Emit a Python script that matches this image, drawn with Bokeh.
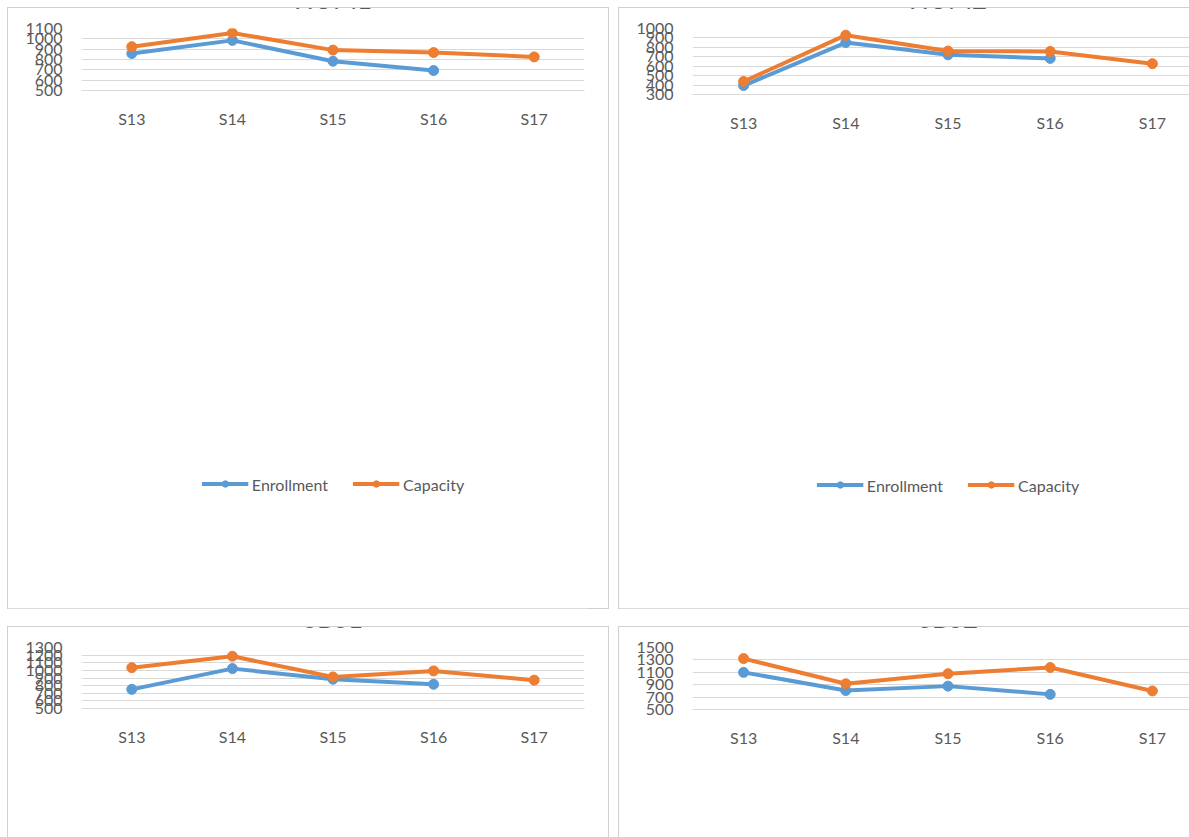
from bokeh.plotting import figure
from bokeh.models import FixedTicker, Range1d, Legend, LegendItem
from bokeh.layouts import row, column
from bokeh.embed import file_html
from bokeh.resources import INLINE

categories = ["S13", "S14", "S15", "S16", "S17"]

hum1_enrollment = [858, 985, 783, 693]
hum1_capacity = [924, 1057, 891, 867, 825]
hum1_ticks = [500, 600, 700, 800, 900, 1000, 1100]

hum2_enrollment = [395, 851, 721, 683]
hum2_capacity = [438, 929, 761, 757, 627]
hum2_ticks = [300, 400, 500, 600, 700, 800, 900, 1000]

sbs1_enrollment = [751, 1023, 884, 817]
sbs1_capacity = [1035, 1185, 914, 993, 872]
sbs1_ticks = [500, 600, 700, 800, 900, 1000, 1100, 1200, 1300]

sbs2_enrollment = [1099, 806, 877, 744]
sbs2_capacity = [1321, 915, 1077, 1177, 799]
sbs2_ticks = [500, 700, 900, 1100, 1300, 1500]

BLUE = "#5B9BD5"
ORANGE = "#ED7D31"
TEXT = "#595959"
GRID = "#d9d9d9"
FONT = "Lato"


def make_panel(title, enr, cap, ticks, fw, fh, bl, br, bt, bb):
    n = len(categories)
    cat_pos = [i + 0.5 for i in range(n)]
    p = figure(
        x_range=Range1d(0, n),
        y_range=Range1d(ticks[0], ticks[-1]),
        frame_width=fw, frame_height=fh,
        min_border_left=bl, min_border_right=br,
        min_border_top=bt, min_border_bottom=bb,
        sizing_mode="fixed",
        output_backend="svg", toolbar_location=None,
        title=title,
    )
    p.title.align = "center"
    p.title.text_font = FONT
    p.title.text_font_size = "26px"
    p.title.text_font_style = "normal"
    p.title.text_color = TEXT
    p.title.standoff = 27

    p.outline_line_color = None
    p.xgrid.grid_line_color = None
    p.ygrid.grid_line_color = GRID
    p.yaxis.ticker = FixedTicker(ticks=ticks)

    p.yaxis.axis_line_color = None
    p.yaxis.major_tick_line_color = None
    p.yaxis.minor_tick_line_color = None
    p.yaxis.major_tick_out = 0
    p.yaxis.major_label_standoff = 19
    p.yaxis.major_label_text_font = FONT
    p.yaxis.major_label_text_font_size = "16px"
    p.yaxis.major_label_text_color = TEXT

    p.xaxis.ticker = FixedTicker(ticks=cat_pos)
    p.xaxis.major_label_overrides = {pos: c for pos, c in zip(cat_pos, categories)}
    p.xaxis.axis_line_color = GRID
    p.xaxis.major_tick_line_color = None
    p.xaxis.minor_tick_line_color = None
    p.xaxis.major_tick_out = 0
    p.xaxis.major_label_standoff = 18
    p.xaxis.major_label_text_font = FONT
    p.xaxis.major_label_text_font_size = "16px"
    p.xaxis.major_label_text_color = TEXT

    ex = cat_pos[:len(enr)]
    cx = cat_pos[:len(cap)]
    l1 = p.line(ex, enr, line_color=BLUE, line_width=4, line_join="round")
    s1 = p.scatter(ex, enr, size=10, fill_color=BLUE, line_color=BLUE)
    l2 = p.line(cx, cap, line_color=ORANGE, line_width=4, line_join="round")
    s2 = p.scatter(cx, cap, size=10, fill_color=ORANGE, line_color=ORANGE)

    legend = Legend(
        items=[LegendItem(label="Enrollment", renderers=[l1, s1]),
               LegendItem(label="Capacity", renderers=[l2, s2])],
        orientation="horizontal", location="center",
        border_line_color=None, background_fill_alpha=0,
        label_text_font=FONT, label_text_font_size="16px",
        label_text_color=TEXT, glyph_width=47, glyph_height=16,
        label_standoff=4, spacing=24, padding=5, margin=20,
    )
    p.add_layout(legend, "below")
    return p


p1 = make_panel("HUM1", hum1_enrollment, hum1_capacity, hum1_ticks,
                482, 218, 73, 24, 82, 105)
p2 = make_panel("HUM2", hum2_enrollment, hum2_capacity, hum2_ticks,
                499, 215, 73, 16, 86, 104)
p3 = make_panel("SBS1", sbs1_enrollment, sbs1_capacity, sbs1_ticks,
                482, 224, 73, 24, 81, 99)
p4 = make_panel("SBS2", sbs2_enrollment, sbs2_capacity, sbs2_ticks,
                499, 223, 73, 16, 82, 99)

border = "1px solid #d0d0d0"
b1 = column(p1, sizing_mode="fixed", styles={"border": border})
b2 = column(p2, sizing_mode="fixed", styles={"border": border, "border-right": "none"})
b3 = column(p3, sizing_mode="fixed", styles={"border": border, "border-bottom": "none"})
b4 = column(p4, sizing_mode="fixed",
            styles={"border": border, "border-right": "none", "border-bottom": "none"})

layout = column(row(b1, b2, spacing=9, sizing_mode="fixed"),
                row(b3, b4, spacing=9, sizing_mode="fixed"),
                spacing=17, sizing_mode="fixed", margin=(7, 0, 0, 7))

open("out.html", "w").write(file_html(layout, INLINE))
